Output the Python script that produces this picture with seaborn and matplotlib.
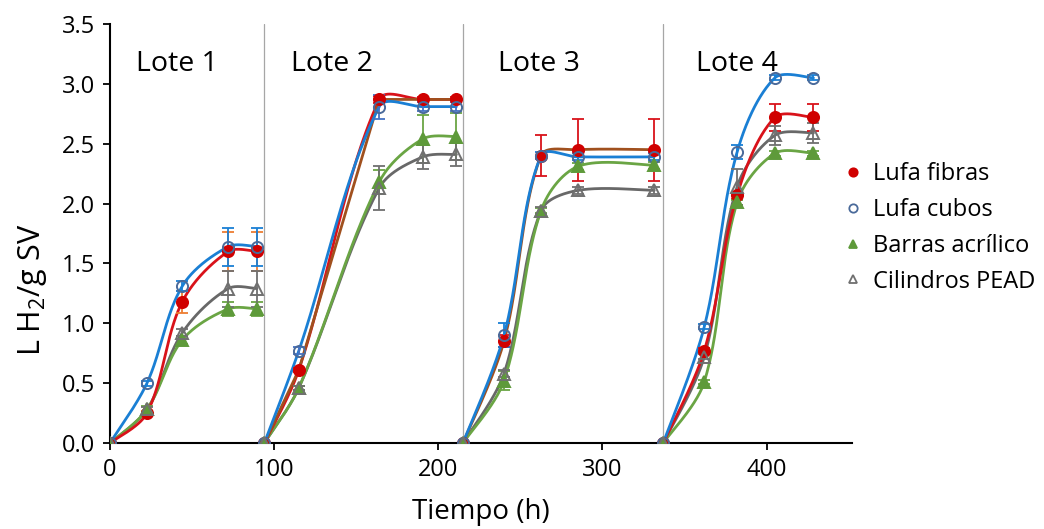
import numpy as np
import pandas as pd
import matplotlib
matplotlib.use("Agg")
import matplotlib.pyplot as plt
from matplotlib.lines import Line2D
import seaborn as sns

# ---------------- data ----------------
batch_labels = ["Lote 1", "Lote 2", "Lote 3", "Lote 4"]
batch_starts = [0, 94, 215, 337]
t_b1 = [0, 22.5, 44, 72, 89.5]
t_b2 = [94, 115, 164, 190.5, 211]
t_b3 = [215, 240, 262.5, 285, 331.5]
t_b4 = [337, 362, 382, 405, 428.5]
times = [t_b1, t_b2, t_b3, t_b4]

series_names = ["Lufa fibras", "Lufa cubos", "Barras acrílico", "Cilindros PEAD"]

fibras = [[0, 0.25, 1.18, 1.60, 1.60],
          [0, 0.61, 2.87, 2.87, 2.87],
          [0, 0.85, 2.40, 2.45, 2.45],
          [0, 0.77, 2.07, 2.72, 2.72]]
cubos = [[0, 0.50, 1.31, 1.64, 1.64],
         [0, 0.77, 2.81, 2.81, 2.81],
         [0, 0.90, 2.40, 2.39, 2.39],
         [0, 0.97, 2.43, 3.05, 3.05]]
acrilico = [[0, 0.28, 0.86, 1.12, 1.12],
            [0, 0.46, 2.18, 2.54, 2.56],
            [0, 0.52, 1.94, 2.31, 2.32],
            [0, 0.51, 2.01, 2.42, 2.42]]
pead = [[0, 0.28, 0.92, 1.29, 1.29],
        [0, 0.46, 2.13, 2.39, 2.41],
        [0, 0.58, 1.94, 2.11, 2.11],
        [0, 0.72, 2.14, 2.57, 2.59]]

err_fibras = [[0, 0.02, 0.09, 0.16, 0.16],
              [0, 0.02, 0.03, 0.02, 0.02],
              [0, 0.05, 0.17, 0.26, 0.26],
              [0, 0.02, 0.03, 0.11, 0.11]]
err_cubos = [[0, 0.02, 0.04, 0.16, 0.16],
             [0, 0.03, 0.10, 0.04, 0.04],
             [0, 0.10, 0.03, 0.03, 0.03],
             [0, 0.02, 0.06, 0.02, 0.02]]
err_acrilico = [[0, 0.03, 0.03, 0.06, 0.06],
                [0, 0.02, 0.10, 0.20, 0.20],
                [0, 0.08, 0.02, 0.03, 0.03],
                [0, 0.02, 0.02, 0.02, 0.02]]
err_pead = [[0, 0.02, 0.03, 0.15, 0.15],
            [0, 0.02, 0.18, 0.10, 0.10],
            [0, 0.03, 0.03, 0.03, 0.03],
            [0, 0.02, 0.15, 0.08, 0.08]]

values = [fibras, cubos, acrilico, pead]
errors = [err_fibras, err_cubos, err_acrilico, err_pead]

x_ticks = [0, 100, 200, 300, 400]
y_ticks = [0.0, 0.5, 1.0, 1.5, 2.0, 2.5, 3.0, 3.5]

# ---------------- style ----------------
line_colors = ["#D9121A", "#1A7FD4", "#6AA544", "#686868"]
brown = "#A0501E"
marker_face = ["#D00000", "none", "#5E9A3A", "none"]
marker_edge = ["#D00000", "#4A6A9A", "#5E9A3A", "#707070"]
markers = ["o", "o", "^", "^"]
err_colors = [["#ED7D31", "#D9121A", "#D9121A", "#D9121A"],
              ["#1A7FD4", "#4472C4", "#1A7FD4", "#1A7FD4"],
              ["#6AA544"] * 4,
              ["#707070"] * 4]

sns.set_theme(style="white")
FONT = "Open Sans"
plt.rcParams["font.family"] = [FONT, "DejaVu Sans"]
plt.rcParams["mathtext.fontset"] = "custom"
plt.rcParams["mathtext.rm"] = FONT
plt.rcParams["mathtext.it"] = FONT + ":italic"
plt.rcParams["text.color"] = "black"
plt.rcParams["axes.labelcolor"] = "black"
plt.rcParams["xtick.color"] = "black"
plt.rcParams["ytick.color"] = "black"

XMAX, YMAX = 452, 3.5
PX_X = 742 / XMAX   # screen pixels per hour
PX_Y = 419 / YMAX   # screen pixels per unit


def smooth(xs, ys, n=60):
    """Excel-like smoothed Bezier path through the points (computed in screen space)."""
    p = np.column_stack([np.asarray(xs, float) * PX_X, np.asarray(ys, float) * PX_Y])
    out = []
    m = len(p)
    for i in range(m - 1):
        p1, p2 = p[i], p[i + 1]
        d12 = np.linalg.norm(p2 - p1)
        if i > 0:
            p0 = p[i - 1]
            d01 = np.linalg.norm(p1 - p0)
            c1 = p1 + (p2 - p0) * d12 / (d01 + d12) / 3.0
        else:
            c1 = p1 + (p2 - p1) / 6.0
        if i + 2 < m:
            p3 = p[i + 2]
            d23 = np.linalg.norm(p3 - p2)
            c2 = p2 - (p3 - p1) * d12 / (d12 + d23) / 3.0
        else:
            c2 = p2 - (p2 - p1) / 6.0
        t = np.linspace(0, 1, n)[:, None]
        seg = ((1 - t) ** 3) * p1 + 3 * ((1 - t) ** 2) * t * c1 + 3 * (1 - t) * t ** 2 * c2 + t ** 3 * p2
        out.append(seg if i == 0 else seg[1:])
    out = np.vstack(out)
    return out[:, 0] / PX_X, out[:, 1] / PX_Y


fig = plt.figure(figsize=(10.44, 5.29), dpi=100)
ax = fig.add_axes([0.1054, 0.1626, 0.7107, 0.792])

# separators
for s in batch_starts[1:]:
    ax.plot([s, s], [0, 3.5], color="#A6A6A6", lw=0.9, zorder=1)

# smooth lines
zorders = [4, 5, 3, 2]
for si in range(4):
    for b in range(4):
        sx, sy = smooth(times[b], values[si][b])
        df = pd.DataFrame({"t": sx, "v": sy})
        col = line_colors[si]
        if si == 0 and b == 2:
            col = brown
        sns.lineplot(data=df, x="t", y="v", ax=ax, sort=False, estimator=None,
                     color=col, lw=2.0, zorder=zorders[si])
# second (brown) trace of the first series in batch 2
df_b = pd.DataFrame({"t": times[1], "v": fibras[1]})
sns.lineplot(data=df_b, x="t", y="v", ax=ax, sort=False, estimator=None,
             color=brown, lw=2.0, zorder=4.5)

# markers and error bars
for si in range(4):
    for b in range(4):
        ax.errorbar(times[b], values[si][b], yerr=errors[si][b], fmt="none",
                    ecolor=err_colors[si][b], elinewidth=1.3, capsize=4,
                    capthick=1.3, zorder=6)
        ax.plot(times[b], values[si][b], linestyle="none", marker=markers[si],
                markersize=8, markerfacecolor=marker_face[si],
                markeredgecolor=marker_edge[si], markeredgewidth=1.4, zorder=7)

# batch labels
label_x = [41, 135, 261, 382]
for lx, lab in zip(label_x, batch_labels):
    ax.text(lx, 3.17, lab, ha="center", va="center", fontsize=20.5, color="black")

ax.set_xlim(0, XMAX)
ax.set_ylim(0, YMAX)
ax.set_xticks(x_ticks)
ax.set_yticks(y_ticks)
ax.set_yticklabels([f"{v:.1f}" for v in y_ticks])
ax.tick_params(axis="both", labelsize=17, direction="out", length=5, width=1.3,
               color="black", labelcolor="black", left=True, bottom=True, pad=6)
for side in ["top", "right"]:
    ax.spines[side].set_visible(False)
for side in ["left", "bottom"]:
    ax.spines[side].set_color("black")
    ax.spines[side].set_linewidth(1.5)

ax.set_xlabel("Tiempo (h)", fontsize=20, labelpad=11)
ax.set_ylabel("L H$_2$/g SV", fontsize=22)
ax.yaxis.set_label_coords(-0.082, 0.365)

handles = [Line2D([0], [0], linestyle="none", marker=markers[i], markersize=6,
                  markerfacecolor=marker_face[i], markeredgecolor=marker_edge[i],
                  markeredgewidth=1.3) for i in range(4)]
fig.legend(handles, series_names, loc="center left", bbox_to_anchor=(0.797, 0.569),
           frameon=False, fontsize=17, handlelength=0.8, handletextpad=0.45,
           labelspacing=0.5, borderpad=0)

fig.savefig("out.png", dpi=100)
